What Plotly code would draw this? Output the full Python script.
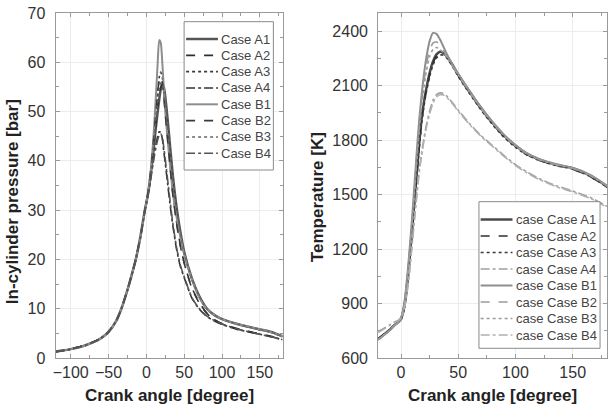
import plotly.graph_objects as go
from plotly.subplots import make_subplots

W, H = 610, 407
T_MARGIN, B_MARGIN = 13, 49

# ---------------- data ----------------
CASES = ["Case A1", "Case A2", "Case A3", "Case A4", "Case B1", "Case B2", "Case B3", "Case B4"]

# In-cylinder pressure [bar]
P_ANGLE_COMP = [-120, -100, -80, -60, -50, -40, -33, -25, -20, -14, -8, -2]
P_COMP = [1.3, 1.8, 2.6, 4.0, 5.3, 7.5, 10.0, 13.8, 16.5, 20.0, 24.5, 30.0]
P_ANGLE_COMB = [0, 3, 6, 9, 12, 15, 17, 19, 21, 23, 25, 28, 31, 35, 40, 45, 50,
                60, 70, 80, 90, 100, 120, 150, 165, 180]
P_A1 = [31.5, 34, 37.5, 41.5, 46, 50, 52.5, 54.5, 55.5, 55, 53, 48.5, 43.5, 37, 30.5, 25.5, 21.5,
        16.2, 12.5, 10, 8.7, 7.9, 6.9, 5.8, 5.3, 4.4]
P_A2 = [31.5, 34, 37.5, 42, 46.5, 51, 53.5, 55, 55.5, 54, 51, 45.5, 40, 33.5, 27.5, 22.8, 19.3,
        14.3, 11.2, 9.1, 7.8, 7.0, 6.0, 4.9, 4.4, 3.7]
P_A3 = [31.5, 34.5, 38, 43, 48.5, 54, 57, 58, 57, 54, 50.5, 46, 41.5, 35.5, 29.8, 25, 21.2,
        16, 12.4, 10, 8.7, 7.9, 6.9, 5.7, 5.2, 4.3]
P_A4 = [31.5, 34, 37, 40, 42.8, 45, 45.9, 45.8, 44.5, 42, 39.5, 35.5, 31.5, 26.8, 22, 18.5, 16.3,
        12.2, 9.9, 8.4, 7.5, 6.8, 5.8, 4.8, 4.3, 3.7]
P_B1 = [31.5, 34.5, 38.5, 44, 51.5, 60, 64.5, 64, 60, 55, 50, 44.5, 39.5, 33.5, 28.5, 24.5, 21,
        16, 12.2, 10, 8.7, 7.9, 6.9, 5.8, 5.2, 4.4]
P_B2 = [31.5, 34.4, 38.2, 43.2, 48.8, 53.8, 56.3, 57, 56, 53, 49.5, 44.5, 39.5, 33, 27.2, 22.6, 19.2,
        14.2, 11.1, 9.0, 7.8, 6.9, 5.9, 4.8, 4.3, 3.7]
P_B3 = [31.5, 34.3, 37.8, 42.5, 47.5, 52, 54.5, 55.8, 55.8, 54, 51.5, 47, 42.5, 36.5, 30.2, 25.3, 21.3,
        16.1, 12.5, 10, 8.7, 7.9, 6.9, 5.8, 5.2, 4.35]
P_B4 = [31.5, 33.8, 36.5, 39.5, 42.2, 44.3, 45.2, 45.5, 44.8, 42.8, 40.3, 36.3, 32.3, 27.3, 22.3, 18.8, 16.5,
        12.3, 10.0, 8.5, 7.6, 6.9, 5.9, 4.8, 4.3, 3.7]

# Temperature [K]
T_ANGLE = [-20, -10, -5, -2, 0, 3, 6, 8, 10, 12, 14, 16, 18, 20, 22, 25, 28, 31, 34, 37, 40, 45, 50,
           60, 70, 80, 90, 100, 110, 120, 135, 150, 165, 180]
T_A1 = [705, 755, 785, 800, 815, 890, 1050, 1190, 1330, 1490, 1640, 1790, 1920, 2010, 2080, 2170, 2235,
        2272, 2287, 2280, 2262, 2215, 2160, 2065, 1975, 1895, 1825, 1770, 1725, 1695, 1665, 1645, 1605, 1545]
T_A2 = [705, 755, 785, 800, 812, 880, 1030, 1170, 1310, 1470, 1620, 1770, 1900, 1995, 2070, 2160, 2225,
        2262, 2278, 2276, 2258, 2210, 2155, 2060, 1970, 1890, 1820, 1765, 1720, 1690, 1662, 1640, 1600, 1540]
T_A3 = [705, 755, 785, 800, 810, 875, 1020, 1160, 1300, 1460, 1610, 1760, 1890, 1985, 2060, 2150, 2215,
        2252, 2268, 2268, 2252, 2205, 2150, 2055, 1965, 1885, 1815, 1760, 1718, 1690, 1660, 1640, 1600, 1540]
T_A4 = [745, 782, 800, 810, 825, 880, 1000, 1120, 1250, 1390, 1520, 1640, 1730, 1810, 1880, 1960, 2020,
        2050, 2060, 2056, 2042, 2005, 1965, 1890, 1825, 1770, 1715, 1665, 1625, 1590, 1550, 1520, 1485, 1435]
T_B1 = [700, 752, 783, 798, 820, 910, 1090, 1240, 1400, 1580, 1760, 1920, 2050, 2160, 2250, 2345, 2390,
        2385, 2355, 2315, 2275, 2215, 2165, 2070, 1980, 1900, 1830, 1772, 1728, 1698, 1668, 1648, 1610, 1550]
T_B2 = [700, 752, 783, 798, 818, 900, 1075, 1220, 1375, 1550, 1720, 1880, 2010, 2120, 2210, 2295, 2335,
        2340, 2325, 2295, 2260, 2208, 2160, 2066, 1975, 1895, 1826, 1770, 1726, 1696, 1666, 1645, 1607, 1547]
T_B3 = [700, 752, 783, 798, 816, 895, 1065, 1210, 1360, 1530, 1700, 1855, 1985, 2090, 2175, 2260, 2300,
        2310, 2300, 2280, 2255, 2205, 2158, 2064, 1972, 1893, 1824, 1768, 1724, 1694, 1664, 1643, 1605, 1545]
T_B4 = [740, 778, 797, 808, 822, 875, 990, 1110, 1240, 1375, 1505, 1625, 1715, 1795, 1865, 1945, 2005,
        2038, 2050, 2048, 2035, 2000, 1960, 1885, 1820, 1765, 1710, 1660, 1620, 1585, 1545, 1515, 1480, 1430]

P_TICKS = [-100, -50, 0, 50, 100, 150]
T_TICKS = [0, 50, 100, 150]

# ---------------- styles ----------------
P_SERIES = [P_A1, P_A2, P_A3, P_A4, P_B1, P_B2, P_B3, P_B4]
T_SERIES = [T_A1, T_A2, T_A3, T_A4, T_B1, T_B2, T_B3, T_B4]
DASHES = ["solid", "dash", "dot", "dashdot", "solid", "dash", "dot", "dashdot"]
P_COLORS = ["#555555", "#2e2e2e", "#3a3a3a", "#333333", "#8e8e8e", "#3a3a3a", "#666666", "#555555"]
P_WIDTHS = [2.5, 1.6, 1.6, 1.6, 2.0, 1.6, 1.6, 1.6]
T_COLORS = ["#4a4a4a", "#2e2e2e", "#3a3a3a", "#a0a0a0", "#8e8e8e", "#9a9a9a", "#9a9a9a", "#b0b0b0"]
T_WIDTHS = [2.5, 1.6, 1.6, 1.6, 2.0, 1.6, 1.6, 1.6]

FONT = "Liberation Sans, Arial, sans-serif"

fig = make_subplots(rows=1, cols=2)

for i, name in enumerate(CASES):
    fig.add_trace(go.Scatter(
        x=P_ANGLE_COMP + P_ANGLE_COMB, y=P_COMP + P_SERIES[i], mode="lines", name=name,
        line=dict(color=P_COLORS[i], width=P_WIDTHS[i], dash=DASHES[i], shape="spline", smoothing=0.6),
        showlegend=False), row=1, col=1)
for i, name in enumerate(CASES):
    fig.add_trace(go.Scatter(
        x=T_ANGLE, y=T_SERIES[i], mode="lines", name="case " + name,
        line=dict(color=T_COLORS[i], width=T_WIDTHS[i], dash=DASHES[i], shape="spline", smoothing=0.6),
        showlegend=False), row=1, col=2)

PLOT_H = H - T_MARGIN - B_MARGIN


def px(x):
    return x / W


def py(y):
    return (H - B_MARGIN - y) / PLOT_H


axis_common = dict(
    showline=True, mirror="ticks", linecolor="#9a9a9a", linewidth=1,
    ticks="inside", ticklen=4, tickcolor="#9a9a9a", tickwidth=1,
    showgrid=True, gridcolor="#ececec", gridwidth=1, zeroline=False,
    tickfont=dict(family=FONT, size=16, color="#333333"),
)

fig.update_xaxes(axis_common)
fig.update_yaxes(axis_common)

fig.update_xaxes(range=[-120, 180], tickvals=P_TICKS, domain=[52.8 / W, 281 / W],
                 minor=dict(dtick=25, tick0=0, ticks="inside", ticklen=3, tickcolor="#9a9a9a", showgrid=False),
                 row=1, col=1)
fig.update_yaxes(range=[0, 70], dtick=10, ticklabelstandoff=6,
                 minor=dict(dtick=5, ticks="inside", ticklen=3, tickcolor="#9a9a9a", showgrid=False),
                 row=1, col=1)
fig.update_xaxes(range=[-20, 180], tickvals=T_TICKS, domain=[377 / W, 607 / W],
                 minor=dict(dtick=25, tick0=0, ticks="inside", ticklen=3, tickcolor="#9a9a9a", showgrid=False),
                 row=1, col=2)
fig.update_yaxes(range=[600, 2500], tickvals=[600, 900, 1200, 1500, 1800, 2100, 2400], ticklabelstandoff=6,
                 minor=dict(dtick=150, tick0=600, ticks="inside", ticklen=3, tickcolor="#9a9a9a", showgrid=False),
                 row=1, col=2)

shapes = []
annotations = []

# axis titles
title_font = dict(family=FONT, size=17, color="#222222")
for cx in [(52.8 + 281) / 2, (377 + 607) / 2]:
    annotations.append(dict(text="<b>Crank angle [degree]</b>", x=px(cx), y=py(395.5), xref="paper", yref="paper",
                            xanchor="center", yanchor="middle", showarrow=False, font=title_font))
annotations.append(dict(text="<b>In-cylinder pressure [bar]</b>", x=px(9.5), y=py(201.7), xref="paper", yref="paper",
                        xanchor="center", yanchor="middle", textangle=-90, showarrow=False, font=title_font))
annotations.append(dict(text="<b>Temperature [K]</b>", x=px(316), y=py(196.7), xref="paper", yref="paper",
                        xanchor="center", yanchor="middle", textangle=-90, showarrow=False, font=title_font))


def add_legend(box, row0, step, line_x0, line_x1, text_x, labels, colors, widths):
    x0, y0, x1, y1 = box
    shapes.append(dict(type="rect", xref="paper", yref="paper", x0=px(x0), x1=px(x1), y0=py(y1), y1=py(y0),
                       line=dict(color="#8a8a8a", width=1), fillcolor="white", layer="above"))
    for i, lab in enumerate(labels):
        yc = row0 + step * i
        shapes.append(dict(type="line", xref="paper", yref="paper", x0=px(line_x0), x1=px(line_x1),
                           y0=py(yc), y1=py(yc), layer="above",
                           line=dict(color=colors[i], width=max(widths[i], 1.6), dash=DASHES[i])))
        annotations.append(dict(text=lab, x=px(text_x), y=py(yc), xref="paper", yref="paper",
                                xanchor="left", yanchor="middle", showarrow=False,
                                font=dict(family=FONT, size=13, color="#444444")))


add_legend((182, 21.7, 271.7, 170), 39, 16.33, 184, 216, 217.5, CASES, P_COLORS, P_WIDTHS)
add_legend((478.3, 201.7, 600, 348.3), 219.5, 16.5, 480, 512, 513.5, ["case " + c for c in CASES],
           T_COLORS, T_WIDTHS)

fig.update_layout(
    width=W, height=H, margin=dict(l=0, r=0, t=T_MARGIN, b=B_MARGIN),
    paper_bgcolor="white", plot_bgcolor="white",
    shapes=shapes, annotations=annotations, showlegend=False,
    font=dict(family=FONT),
)

fig.write_html("out.html")
